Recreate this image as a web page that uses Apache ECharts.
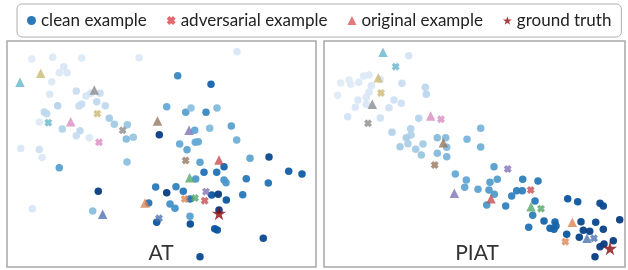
<!DOCTYPE html>
<html>
<head>
<meta charset="utf-8">
<script src="https://cdn.jsdelivr.net/npm/echarts@6/dist/echarts.min.js"></script>
<style>
  html, body { margin: 0; padding: 0; background: #fff; }
  #chart { width: 628px; height: 270px; }
</style>
</head>
<body>
<div id="chart"></div>
<script>
// points: [x, y, shade] (shade 0 = lightest blue, 7 = darkest)
var cleanAT = [
	[31.7,59,0.2],[52.7,57.3,0.3],[81.7,58,0.3],[139,57.7,0.3],[237,51.7,0.5],
	[63.7,66.7,0.5],[59.3,72.7,0.3],[67,72.7,0.4],[51.7,81.7,0.3],[49.7,94.3,0.4],
	[76.3,91,1],[86,96,0.5],[90.7,93.3,0.6],[100,93.3,1],[96.7,101.7,1.2],
	[105.3,105.7,1.2],[81.7,104,1],[79,106,1],[57.7,105.7,1.5],[44.3,112,1.3],
	[46.7,113.7,1.3],[39.3,122,0.3],[62.3,129,1.6],[80,130.7,1.3],[76.3,135.7,1],
	[89.3,137.7,0.3],[109.3,118.3,2],[114.3,124.3,2],[127.3,124.7,2.2],[126.3,139,2.6],
	[133.3,137.3,2.2],[20.7,148.5,0.4],[39.3,149.5,0.8],[42,157.5,0.3],[127,162,2.4],
	[166.7,106.7,3.2],[159.3,134.7,7],[177.7,75.7,4.3],[211,84.3,5.5],[185.7,112.3,3.5],
	[191,108,2.4],[206,112.3,4.3],[217,108,2.6],[194.7,130.3,3.3],[209.7,128.3,2.6],
	[231.3,126,3.5],[179.7,144,3.2],[187,149.7,3.4],[195.3,142.3,3.2],[198.3,141.7,3.2],
	[236.7,140,3],[250,158.3,3.4],[269,157,6.5],[59.3,167.7,3.5],[98.3,191.3,7],
	[155.7,187,4.8],[166.7,192.7,7],[148.7,203,5],[170,204,4],[32.3,208.7,0.5],
	[92.7,211,2.5],[156.7,222.3,6],[200,162.3,3.5],[224,166.7,5.5],[204,172.3,5],
	[216.7,172.3,5],[288.7,171.3,5.7],[302,174,5.8],[195.7,179,3.8],[224,180,3.8],
	[226,182.7,3.8],[246.3,178.7,4.8],[268.3,183,5],[176,186.7,4.5],[183.3,191.3,4.8],
	[175,208.3,4],[190,199,5],[211.7,195,6],[218.3,194.3,7],[226.3,200,6],
	[242.7,194.7,4.8],[219,210,7],[190,216.3,3.5],[190.3,224,6.5],[214.7,228.7,6],
	[217.3,230,6],[263.3,238.3,6.5],[200,256.7,6.5]
];
var cleanPIAT = [
	[408.7,55.7,0.6],[340.7,83,0.2],[349,80,0.2],[350.7,84.3,0.2],[358.7,82.3,0.3],
	[363.7,76,0.3],[369,75,0.3],[371.3,85.7,0.4],[380.3,79.3,0.3],[337.7,95.3,0.2],
	[369,92.3,0.4],[366.3,97.3,0.4],[358,100,0.5],[355.3,107.3,0.5],[366.3,104.3,0.5],
	[347.7,116.7,0.6],[380.3,118,0.7],[389,107.7,0.7],[394,100,0.8],[401.3,103.3,0.9],
	[402,83.3,1],[425.3,87.3,1.3],[426.3,94.3,1.4],[418.7,118.3,1.5],[392,132.3,1.6],
	[410.7,128.7,1.6],[411,135,1.6],[406.3,137.7,1.8],[408,143.7,1.8],[400,146.7,2],
	[415.7,149.3,2],[423,144,2],[421.3,155,2.2],[437.3,137.7,2.6],[445.7,137.7,2.6],
	[446.7,147.3,2.6],[437.3,153.3,2.6],[446.7,156.7,2.8],[467,139.3,2.8],[480.7,128.3,2.8],
	[480.7,147,3],[455.3,174,3.2],[466.3,180,3.3],[464.7,187.3,3.3],[478,189.3,3.4],
	[494,166.7,3.6],[490,182.3,3.6],[497.3,179.3,3.6],[489,190,3.7],[494.3,194.3,3.7],
	[486.7,205,3.8],[505.7,206,4.5],[511.7,196,4.5],[516.7,190.7,4.6],[522.3,190.7,4.6],
	[522.7,179.3,4.6],[538,181,4.8],[535,201,4.8],[532.7,215.3,4.6],[528.7,227.3,5],
	[544,221,5.5],[555,222,5.5],[556,226,5.5],[550,228.3,5.5],[554,229.3,5.5],
	[567.7,198.7,6],[577.7,201.7,6],[600,203.3,6.5],[603.3,206,6.5],[619.7,219.7,7],
	[581,221.7,6.5],[595.7,222.3,6.5],[566.7,234.3,6],[583.3,230.3,6.8],[589.7,231.3,6.8],
	[603.3,229.3,6.8],[579.3,237.3,6.8],[600,246.7,7],[604,244,7],[613.3,240.7,7],
	[595,256.7,7]
];

// ten examples, same order in both panels
var advAT = [[159,218.3],[184.7,199],[195,198],[204.7,200.7],[206,191.7],[185.7,160.5],[99,142.3],[122.7,130.3],[97.3,113.7],[48.3,122.7]];
var origAT = [[102.7,214.3],[145,203],[189.7,177.7],[219,160],[189,130.3],[157.5,121],[70.7,121.7],[94.3,90],[40.7,73.3],[20,82.3]];
var truthAT = [[219,213.3]];

var advPIAT = [[594,238.3],[565.3,241.7],[541,208.7],[530.7,190],[507.7,169],[434.7,165],[441,119.3],[368,123.3],[381,93],[395.7,66.7]];
var origPIAT = [[587,238.3],[572.3,222.3],[531,206.7],[491,198.7],[454.3,193.3],[443.3,142.7],[430.7,116],[372.3,104.3],[378.3,77.7],[383,52.3]];
var truthPIAT = [[610,248.3]];

var panelNames = ['AT', 'PIAT'];
var legendNames = ['clean example', 'adversarial example', 'original example', 'ground truth'];

var palette = ['#4C72B0','#DD8452','#55A868','#C44E52','#8172B3','#937860','#DA8BC3','#8C8C8C','#CCB974','#64B5CD'];
var blues = ['#e4eef9','#c9ddf0','#a3cbe5','#6fb0d8','#4292c6','#2171b5','#0b559f','#083c80'];
var crossPath = 'path://M3,0 L5,2 L7,0 L10,3 L8,5 L10,7 L7,10 L5,8 L3,10 L0,7 L2,5 L0,3 Z';
var starPath = 'path://M50,0 L61,35 L98,35 L68,57 L79,91 L50,70 L21,91 L32,57 L2,35 L39,35 Z';
var fontName = 'Lato';

function colored(points){
	return points.map(function(p, i){
		return { value: p, itemStyle: { color: palette[i] } };
	});
}

function panelSeries(idx, clean, adv, orig, truth){
	return [
		{ name: legendNames[0], type: 'scatter', xAxisIndex: idx, yAxisIndex: idx,
		  symbol: 'circle', symbolSize: 7.5, data: clean, itemStyle: { opacity: 0.95 } },
		{ name: legendNames[1], type: 'scatter', xAxisIndex: idx, yAxisIndex: idx,
		  symbol: crossPath, symbolSize: 8, data: colored(adv), itemStyle: { color: '#C44E52' } },
		{ name: legendNames[2], type: 'scatter', xAxisIndex: idx, yAxisIndex: idx,
		  symbol: 'triangle', symbolSize: 9.5, data: colored(orig), itemStyle: { color: '#C44E52' } },
		{ name: legendNames[3], type: 'scatter', xAxisIndex: idx, yAxisIndex: idx,
		  symbol: starPath, symbolSize: 14, data: truth, itemStyle: { color: '#8B0A0A' } }
	];
}

var chart = echarts.init(document.getElementById('chart'), null, { renderer: 'canvas' });

var hidden = { axisLine: { show: false }, axisTick: { show: false }, axisLabel: { show: false }, splitLine: { show: false } };

var option = {
	animation: false,
	textStyle: { fontFamily: fontName },
	legend: {
		left: 17, top: 4,
		padding: [8, 10, 8, 10],
		itemGap: 20,
		itemWidth: 9, itemHeight: 9,
		borderColor: '#b0b0b0', borderWidth: 1, borderRadius: 5,
		textStyle: { fontSize: 17, color: '#222', fontFamily: fontName },
		data: [
			{ name: legendNames[0], icon: 'circle', itemStyle: { color: '#2171b5' } },
			{ name: legendNames[1], icon: crossPath, itemStyle: { color: '#d9454f' } },
			{ name: legendNames[2], icon: 'triangle', itemStyle: { color: '#d9595c' } },
			{ name: legendNames[3], icon: starPath, itemStyle: { color: '#8B0A0A' } }
		]
	},
	title: [
		{ text: panelNames[0], left: 161, top: 243, textAlign: 'center', padding: 0,
		  textStyle: { fontSize: 21, fontWeight: 'normal', color: '#333', fontFamily: fontName } },
		{ text: panelNames[1], left: 477, top: 243, textAlign: 'center', padding: 0,
		  textStyle: { fontSize: 21, fontWeight: 'normal', color: '#333', fontFamily: fontName } }
	],
	grid: [
		{ left: 7, top: 41, width: 309, height: 226, show: true, borderColor: '#a8a8a8', borderWidth: 1.5, backgroundColor: '#fff' },
		{ left: 324, top: 41, width: 301, height: 226, show: true, borderColor: '#a8a8a8', borderWidth: 1.5, backgroundColor: '#fff' }
	],
	xAxis: [
		Object.assign({ type: 'value', gridIndex: 0, min: 7, max: 316 }, hidden),
		Object.assign({ type: 'value', gridIndex: 1, min: 324, max: 625 }, hidden)
	],
	yAxis: [
		Object.assign({ type: 'value', gridIndex: 0, min: 41, max: 267, inverse: true }, hidden),
		Object.assign({ type: 'value', gridIndex: 1, min: 41, max: 267, inverse: true }, hidden)
	],
	visualMap: {
		show: false, type: 'continuous', dimension: 2, min: 0, max: 7,
		seriesIndex: [0, 4],
		inRange: { color: blues }
	},
	series: panelSeries(0, cleanAT, advAT, origAT, truthAT)
		.concat(panelSeries(1, cleanPIAT, advPIAT, origPIAT, truthPIAT))
};

chart.setOption(option);
</script>
</body>
</html>
